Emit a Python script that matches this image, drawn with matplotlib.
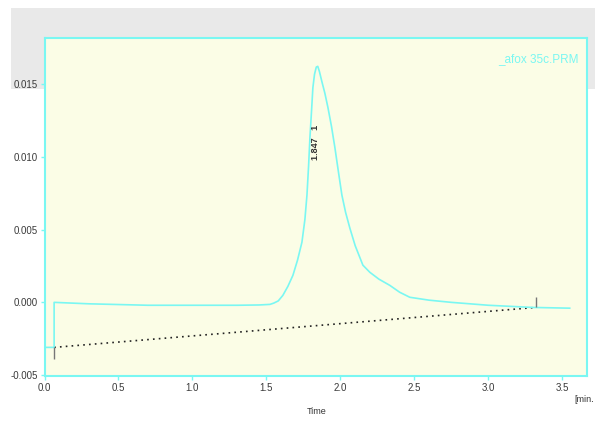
import matplotlib.pyplot as plt
from matplotlib.patches import Rectangle

# Chromatogram trace (time in min, signal)
time = [0.0, 0.065, 0.065, 0.3, 0.7, 1.0, 1.3, 1.45, 1.524, 1.55, 1.58, 1.611,
        1.645, 1.679, 1.71, 1.740, 1.76, 1.774, 1.785, 1.794, 1.805, 1.814, 1.825,
        1.837, 1.847, 1.858, 1.875, 1.895, 1.916, 1.94, 1.963, 1.985, 2.010, 2.035,
        2.064, 2.1, 2.152, 2.199, 2.26, 2.334, 2.4, 2.469, 2.6, 2.75, 3.0, 3.3, 3.55]
signal = [-0.0031, -0.0031, 0.0, -0.0001, -0.0002, -0.0002, -0.0002, -0.00018,
          -0.00014, -0.00005, 0.0001, 0.00048, 0.0011, 0.00186, 0.0029, 0.00414,
          0.0057, 0.00739, 0.0094, 0.01133, 0.0132, 0.01478, 0.0157, 0.0162,
          0.01625, 0.0159, 0.01519, 0.0144, 0.0134, 0.0121, 0.01064, 0.0091,
          0.00739, 0.0062, 0.00511, 0.0039, 0.00256, 0.00207, 0.0016, 0.00117,
          0.0007, 0.00035, 0.00015, 0.0, -0.0002, -0.00035, -0.0004]

# Integration baseline and its start / end markers
base_t = [0.065, 3.32]
base_y = [-0.0031, -0.00035]
start_mark = [-0.0031, -0.0039]
end_mark = [-0.00035, 0.0004]

peak_rt = 1.847
peak_no = 1
trace_name = "_afox 35c.PRM"

xticks = [0.0, 0.5, 1.0, 1.5, 2.0, 2.5, 3.0, 3.5]
yticks = [-0.005, 0.000, 0.005, 0.010, 0.015]

cyan = "#7af7f2"
plt.rcParams['font.family'] = ['Liberation Sans', 'DejaVu Sans']

fig = plt.figure(figsize=(5.95, 4.21), dpi=100)
# grey header band behind the plot frame
fig.patches.append(Rectangle((0.0185, 0.7886), 0.9815, 0.1924, transform=fig.transFigure,
                             facecolor="#e9e9e9", edgecolor="none", zorder=-5))
ax = fig.add_axes([0.0748, 0.1069, 0.9118, 0.8028])
ax.set_zorder(1)
ax.set_facecolor("#fbfde6")

ax.plot(time, signal, color=cyan, lw=1.2, zorder=3)
ax.plot(base_t, base_y, color="#222222", lw=1.2, linestyle=(0, (1, 2.5)), zorder=2)
ax.vlines(base_t[0], start_mark[1], start_mark[0], color="#777777", lw=1.0, zorder=4)
ax.vlines(base_t[1], end_mark[0], end_mark[1], color="#777777", lw=1.0, zorder=4)

ax.text(peak_rt - 0.012, 0.0098, f"{peak_rt:.3f}   {peak_no}", rotation=90,
        ha="center", va="bottom", fontsize=6.5, fontweight="bold", color="#333333")
ax.text(0.985, 0.955, trace_name, transform=ax.transAxes, ha="right", va="top",
        fontsize=8.5, color=cyan)

ax.set_xlim(0, 3.667)
ax.set_ylim(-0.00507, 0.0182)
ax.set_xticks(xticks)
ax.set_yticks(yticks)
ax.set_xticklabels([f"{v:.1f}" for v in xticks])
ax.set_yticklabels([f"{v:.3f}" for v in yticks])

for sp in ax.spines.values():
    sp.set_color(cyan)
    sp.set_linewidth(1.5)
ax.tick_params(direction="out", length=3, width=1, color=cyan, labelsize=7,
               labelcolor="#3a3a3a", pad=2)

fig.text(0.516, 0.012, "Time", fontsize=6.5, color="#333333", ha="left", va="bottom")
fig.text(0.965, 0.04, "[min.", fontsize=6.5, color="#333333", ha="left", va="bottom")

fig.savefig("out.png", dpi=100, facecolor="white")
